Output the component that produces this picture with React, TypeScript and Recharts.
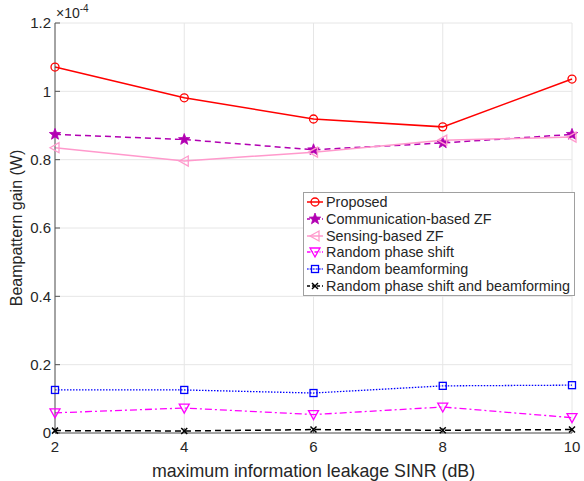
import React from 'react'
import {
  CartesianGrid,
  Legend,
  Line,
  LineChart,
  XAxis,
  YAxis,
} from 'recharts'

// x-axis: maximum information leakage SINR (dB)
const sinrDb = [2, 4, 6, 8, 10]

// beampattern gain, in units of 1e-4 W
const proposed = [1.071, 0.981, 0.919, 0.896, 1.036]
const commZf = [0.874, 0.859, 0.829, 0.849, 0.874]
const sensingZf = [0.835, 0.796, 0.822, 0.857, 0.866]
const randomPhase = [0.059, 0.073, 0.054, 0.076, 0.045]
const randomBeam = [0.126, 0.126, 0.117, 0.138, 0.140]
const randomBoth = [0.007, 0.006, 0.010, 0.008, 0.010]

const yTicks = [0, 0.2, 0.4, 0.6, 0.8, 1, 1.2]

const FONT = '"Liberation Sans", Arial, sans-serif'
const TEXT = '#262626'
const AXIS = '#555'

type Shape = 'circle' | 'star' | 'tri-left' | 'tri-down' | 'square' | 'cross'

interface SeriesDef {
  key: string
  name: string
  values: number[]
  color: string
  dash?: string
  width: number
  shape: Shape
}

const series: SeriesDef[] = [
  { key: 'proposed', name: 'Proposed', values: proposed, color: '#ff0000', width: 1.5, shape: 'circle' },
  { key: 'commZf', name: 'Communication-based ZF', values: commZf, color: '#b200b2', dash: '6 4', width: 1.5, shape: 'star' },
  { key: 'sensingZf', name: 'Sensing-based ZF', values: sensingZf, color: '#ff99cc', width: 1.5, shape: 'tri-left' },
  { key: 'randomPhase', name: 'Random phase shift', values: randomPhase, color: '#ff00ff', dash: '7 3 2 3', width: 1.3, shape: 'tri-down' },
  { key: 'randomBeam', name: 'Random beamforming', values: randomBeam, color: '#0000ff', dash: '1.5 1.5', width: 1.3, shape: 'square' },
  { key: 'randomBoth', name: 'Random phase shift and beamforming', values: randomBoth, color: '#000000', dash: '6 4', width: 1.5, shape: 'cross' },
]

const data = sinrDb.map((x, i) => {
  const row: Record<string, number> = { x }
  series.forEach((s) => {
    row[s.key] = s.values[i]
  })
  return row
})

function Marker({ shape, color, cx, cy }: { shape: Shape; color: string; cx: number; cy: number }) {
  const sw = 1.3
  switch (shape) {
    case 'circle':
      return <circle cx={cx} cy={cy} r={4} fill="none" stroke={color} strokeWidth={sw} />
    case 'star': {
      const pts: string[] = []
      for (let i = 0; i < 10; i++) {
        const r = i % 2 === 0 ? 6 : 2.5
        const a = -Math.PI / 2 + (i * Math.PI) / 5
        pts.push(`${cx + r * Math.cos(a)},${cy + r * Math.sin(a)}`)
      }
      return <polygon points={pts.join(' ')} fill={color} stroke={color} strokeWidth={0.8} />
    }
    case 'tri-left':
      return (
        <polygon
          points={`${cx - 5},${cy} ${cx + 4},${cy - 5} ${cx + 4},${cy + 5}`}
          fill="none"
          stroke={color}
          strokeWidth={sw}
        />
      )
    case 'tri-down':
      return (
        <polygon
          points={`${cx - 5},${cy - 4} ${cx + 5},${cy - 4} ${cx},${cy + 5}`}
          fill="none"
          stroke={color}
          strokeWidth={sw}
        />
      )
    case 'square':
      return <rect x={cx - 3.5} y={cy - 3.5} width={7} height={7} fill="none" stroke={color} strokeWidth={sw} />
    case 'cross':
      return (
        <g stroke={color} strokeWidth={1.5}>
          <line x1={cx - 3} y1={cy - 3} x2={cx + 3} y2={cy + 3} />
          <line x1={cx - 3} y1={cy + 3} x2={cx + 3} y2={cy - 3} />
        </g>
      )
  }
}

function makeDot(s: SeriesDef) {
  return (props: any) => {
    const { cx, cy, index } = props
    if (cx == null || cy == null) return <g key={`${s.key}-${index}`} />
    return (
      <g key={`${s.key}-${index}`}>
        <Marker shape={s.shape} color={s.color} cx={cx} cy={cy} />
      </g>
    )
  }
}

function LegendBox() {
  return (
    <div
      style={{
        border: '1px solid #a0a0a0',
        background: '#fff',
        width: 270,
        padding: '1px 0 1px 0',
        fontFamily: FONT,
        fontSize: 14.4,
        color: TEXT,
      }}
    >
      {series.map((s) => (
        <div key={s.key} style={{ display: 'flex', alignItems: 'center', height: 16.7 }}>
          <svg width={22} height={14} style={{ flexShrink: 0 }}>
            <line x1={3} y1={7} x2={19} y2={7} stroke={s.color} strokeWidth={s.width} strokeDasharray={s.dash ? s.dash.split(' ').map((d) => Number(d) * 0.5).join(' ') : undefined} />
            <Marker shape={s.shape} color={s.color} cx={11} cy={7} />
          </svg>
          <span style={{ whiteSpace: 'nowrap' }}>{s.name}</span>
        </div>
      ))}
    </div>
  )
}

const blank = () => ''

export default function App() {
  return (
    <div style={{ position: 'absolute', left: 0, top: 0, width: 584, height: 481, background: '#fff' }}>
      <LineChart
        width={584}
        height={481}
        data={data}
        margin={{ top: 23, right: 12, bottom: 0, left: 5 }}
      >
        <CartesianGrid stroke="#e6e6e6" strokeWidth={1} />
        <XAxis
          dataKey="x"
          type="number"
          domain={[2, 10]}
          ticks={sinrDb}
          height={48}
          tickSize={-5}
          tickMargin={13}
          tickLine={{ stroke: AXIS }}
          axisLine={{ stroke: AXIS }}
          tick={{ fill: TEXT, fontSize: 15, fontFamily: FONT }}
          label={{
            value: 'maximum information leakage SINR (dB)',
            position: 'insideBottom',
            offset: 4,
            fill: TEXT,
            fontSize: 17.8,
            fontFamily: FONT,
          }}
        />
        <XAxis
          xAxisId="top"
          dataKey="x"
          type="number"
          domain={[2, 10]}
          ticks={sinrDb}
          orientation="top"
          height={0}
          tickSize={-5}
          tickFormatter={blank}
          tickLine={{ stroke: AXIS }}
          axisLine={{ stroke: AXIS }}
        />
        <YAxis
          type="number"
          domain={[0, 1.2]}
          ticks={yTicks}
          width={50}
          tickSize={-5}
          tickMargin={9}
          tickLine={{ stroke: AXIS }}
          axisLine={{ stroke: AXIS }}
          tick={{ fill: TEXT, fontSize: 15, fontFamily: FONT }}
          tickFormatter={(v: number) => String(Number(v.toFixed(1)))}
        />
        <YAxis
          yAxisId="right"
          type="number"
          domain={[0, 1.2]}
          ticks={yTicks}
          orientation="right"
          width={0}
          tickSize={-5}
          tickFormatter={blank}
          tickLine={{ stroke: AXIS }}
          axisLine={{ stroke: AXIS }}
        />
        <Legend
          layout="horizontal"
          verticalAlign="middle"
          align="center"
          content={() => <LegendBox />}
          wrapperStyle={{ top: 192, left: 303, width: 272 }}
        />
        {series.map((s) => (
          <Line
            key={s.key}
            dataKey={s.key}
            name={s.name}
            type="linear"
            stroke={s.color}
            strokeWidth={s.width}
            strokeDasharray={s.dash}
            dot={makeDot(s)}
            activeDot={false}
            isAnimationActive={false}
          />
        ))}
      </LineChart>
      <div
        style={{
          position: 'absolute',
          left: 17,
          top: 228,
          transform: 'translate(-50%, -50%) rotate(-90deg)',
          whiteSpace: 'nowrap',
          fontFamily: FONT,
          fontSize: 16,
          color: TEXT,
        }}
      >
        Beampattern gain (W)
      </div>
      <div
        style={{
          position: 'absolute',
          left: 56,
          top: 5,
          whiteSpace: 'nowrap',
          fontFamily: FONT,
          fontSize: 14,
          color: TEXT,
        }}
      >
        ×10<sup style={{ fontSize: 10, verticalAlign: 'super', lineHeight: 0 }}>-4</sup>
      </div>
    </div>
  )
}
